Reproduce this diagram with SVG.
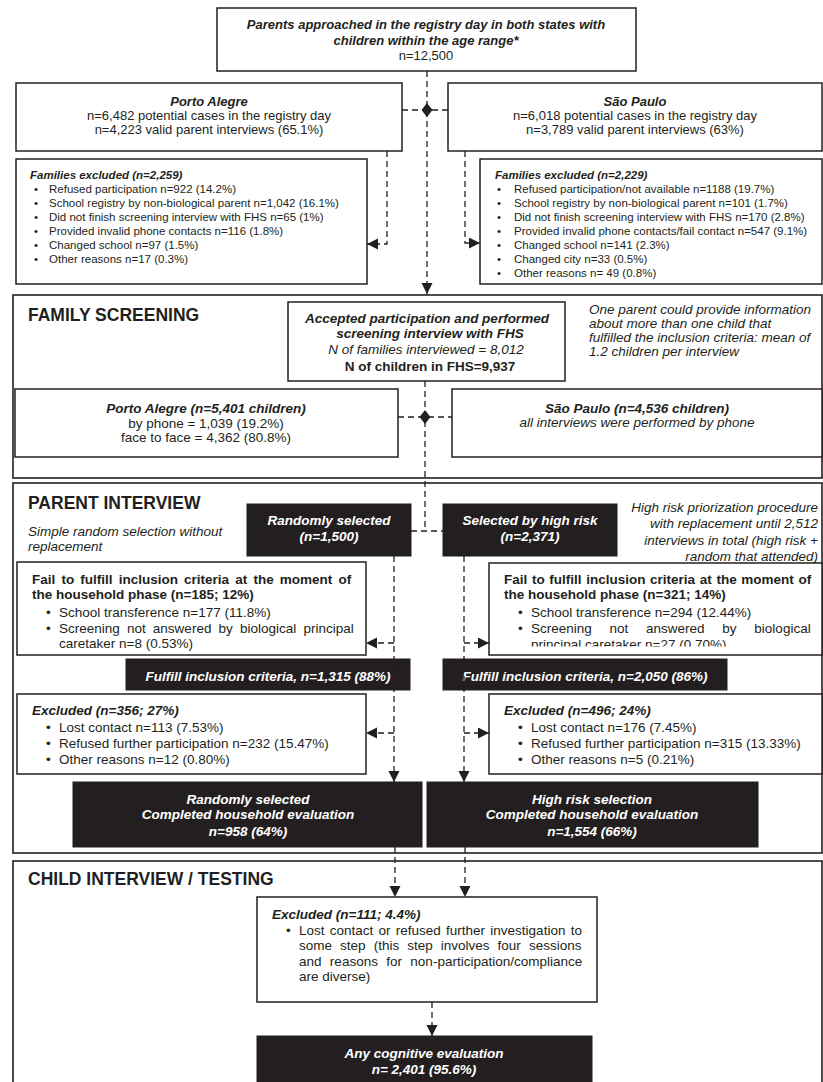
<svg xmlns="http://www.w3.org/2000/svg" width="823" height="1082" viewBox="0 0 823 1082">
<defs>
<style>
.box{fill:#fff;stroke:#231f20;stroke-width:1.5}
.sec{fill:none;stroke:#231f20;stroke-width:1.6}
.blk{fill:#231f20;stroke:#231f20;stroke-width:1}
.t{font-family:"Liberation Sans",Arial,Helvetica,sans-serif;fill:#231f20}
.s13{font-size:13px}
.s135{font-size:13.5px}
.s115{font-size:11.5px}
.s175{font-size:17.5px}
.b{font-weight:bold}
.i{font-style:italic}
.w{fill:#fff}
.c{text-anchor:middle}
.r{text-anchor:end}
.dash{fill:none;stroke:#231f20;stroke-width:1.3;stroke-dasharray:6 4}
.dia{fill:#231f20}
</style>
<marker id="arr" markerUnits="userSpaceOnUse" markerWidth="12" markerHeight="12" refX="11" refY="5.5" orient="auto">
<path d="M0,0 L11,5.5 L0,11 Z" fill="#231f20"/>
</marker>
<clipPath id="clipR"><rect x="489" y="563" width="333" height="83.5"/></clipPath>
</defs>
<rect width="823" height="1082" fill="#fff"/>

<g id="sections">
<rect class="sec" x="13" y="295" width="809" height="183"/>
<rect class="sec" x="13" y="483" width="809" height="370"/>
<rect class="sec" x="13" y="861" width="809" height="240"/>
<text class="t s175 b" x="28" y="321">FAMILY SCREENING</text>
<text class="t s175 b" x="28" y="509">PARENT INTERVIEW</text>
<text class="t s175 b" x="28" y="885">CHILD INTERVIEW / TESTING</text>
</g>

<g id="n-top">
<rect class="box" x="217" y="8" width="419" height="63"/>
<text class="t s13 b i c" x="426" y="28.5">Parents approached in the registry day in both states with</text>
<text class="t s13 b i c" x="426" y="44.5">children within the age range*</text>
<text class="t s13 c" x="426" y="59.5">n=12,500</text>
</g>

<g id="n-poa">
<rect class="box" x="16" y="83" width="386" height="68"/>
<text class="t s13 b i c" x="209" y="105.5">Porto Alegre</text>
<text class="t s13 c" x="209" y="119.5">n=6,482 potential cases in the registry day</text>
<text class="t s13 c" x="209" y="133.5">n=4,223 valid parent interviews (65.1%)</text>
</g>

<g id="n-sp">
<rect class="box" x="448" y="83" width="374" height="68"/>
<text class="t s13 b i c" x="635" y="105.5">São Paulo</text>
<text class="t s13 c" x="635" y="119.5">n=6,018 potential cases in the registry day</text>
<text class="t s13 c" x="635" y="133.5">n=3,789 valid parent interviews (63%)</text>
</g>

<g id="n-excl-poa">
<rect class="box" x="16" y="159" width="351" height="125"/>
<text class="t s115 b i" x="30" y="179">Families excluded (n=2,259)</text>
<g class="t s115">
<text x="34" y="192.5">•</text><text x="49" y="192.5">Refused participation n=922 (14.2%)</text>
<text x="34" y="206.5">•</text><text x="49" y="206.5">School registry by non-biological parent n=1,042 (16.1%)</text>
<text x="34" y="220.5">•</text><text x="49" y="220.5">Did not finish screening interview with FHS n=65 (1%)</text>
<text x="34" y="234.5">•</text><text x="49" y="234.5">Provided invalid phone contacts n=116 (1.8%)</text>
<text x="34" y="248.5">•</text><text x="49" y="248.5">Changed school n=97 (1.5%)</text>
<text x="34" y="262.5">•</text><text x="49" y="262.5">Other reasons n=17 (0.3%)</text>
</g>
</g>

<g id="n-excl-sp">
<rect class="box" x="480" y="159" width="342" height="125"/>
<text class="t s115 b i" x="495" y="179">Families excluded (n=2,229)</text>
<g class="t s115">
<text x="497" y="192.5">•</text><text x="514" y="192.5">Refused participation/not available n=1188 (19.7%)</text>
<text x="497" y="206.5">•</text><text x="514" y="206.5">School registry by non-biological parent n=101 (1.7%)</text>
<text x="497" y="220.5">•</text><text x="514" y="220.5">Did not finish screening interview with FHS n=170 (2.8%)</text>
<text x="497" y="234.5">•</text><text x="514" y="234.5">Provided invalid phone contacts/fail contact n=547 (9.1%)</text>
<text x="497" y="248.5">•</text><text x="514" y="248.5">Changed school n=141 (2.3%)</text>
<text x="497" y="262.5">•</text><text x="514" y="262.5">Changed city n=33 (0.5%)</text>
<text x="497" y="276.5">•</text><text x="514" y="276.5">Other reasons n= 49 (0.8%)</text>
</g>
</g>

<g id="n-accepted">
<rect class="box" x="288" y="302" width="277" height="79"/>
<text class="t s135 b i c" x="427" y="322.5">Accepted participation and performed</text>
<text class="t s135 b i c" x="430" y="337.5">screening interview with FHS</text>
<text class="t s135 i c" x="426" y="353.5">N of families interviewed = 8,012</text>
<text class="t s135 b c" x="430" y="370.5">N of children in FHS=9,937</text>
</g>

<g id="note-fhs" class="t s135 i">
<text x="589" y="314">One parent could provide information</text>
<text x="589" y="328">about more than one child that</text>
<text x="589" y="342">fulfilled the inclusion criteria: mean of</text>
<text x="589" y="356">1.2 children per interview</text>
</g>

<g id="n-poa-fhs">
<rect class="box" x="15" y="389" width="383" height="68"/>
<text class="t s135 b i c" x="206" y="412.5">Porto Alegre (n=5,401 children)</text>
<text class="t s135 c" x="206" y="427.5">by phone = 1,039 (19.2%)</text>
<text class="t s135 c" x="206" y="441.5">face to face = 4,362 (80.8%)</text>
</g>

<g id="n-sp-fhs">
<rect class="box" x="452" y="389" width="370" height="68"/>
<text class="t s135 b i c" x="637" y="412.5">São Paulo (n=4,536 children)</text>
<text class="t s135 i c" x="637" y="426.5">all interviews were performed by phone</text>
</g>

<g id="note-random" class="t s135 i">
<text x="28" y="535.5">Simple random selection without</text>
<text x="28" y="550.5">replacement</text>
</g>

<g id="note-highrisk" class="t s135 i r">
<text x="818" y="512">High risk priorization procedure</text>
<text x="818" y="528">with replacement until 2,512</text>
<text x="818" y="545">interviews in total (high risk +</text>
<text x="818" y="561">random that attended)</text>
</g>

<g id="n-random">
<rect class="blk" x="247" y="504" width="164" height="52"/>
<text class="t s135 b i c w" x="329" y="525">Randomly selected</text>
<text class="t s135 b i c w" x="329" y="541">(n=1,500)</text>
</g>

<g id="n-highrisk">
<rect class="blk" x="443" y="504" width="174" height="52"/>
<text class="t s135 b i c w" x="530" y="525">Selected by high risk</text>
<text class="t s135 b i c w" x="530" y="541">(n=2,371)</text>
</g>

<g id="n-fail-random">
<rect class="box" x="17" y="562" width="349" height="93"/>
<text class="t s135 b" x="32" y="584" style="word-spacing:2.4px">Fail to fulfill inclusion criteria at the moment of</text>
<text class="t s135 b" x="32" y="599">the household phase (n=185; 12%)</text>
<g class="t s135">
<text x="46" y="617">•</text><text x="59" y="617">School transference n=177 (11.8%)</text>
<text x="46" y="633">•</text><text x="59" y="633" style="word-spacing:3.4px">Screening not answered by biological principal</text>
<text x="59" y="648">caretaker n=8 (0.53%)</text>
</g>
</g>

<g id="n-fail-highrisk">
<rect class="box" x="489" y="563" width="333" height="92"/>
<g clip-path="url(#clipR)">
<text class="t s135 b" x="504" y="584" style="word-spacing:0.9px">Fail to fulfill inclusion criteria at the moment of</text>
<text class="t s135 b" x="504" y="599">the household phase (n=321; 14%)</text>
<g class="t s135">
<text x="518" y="617">•</text><text x="531" y="617">School transference n=294 (12.44%)</text>
<text x="518" y="633">•</text><text x="531" y="633" style="word-spacing:14px">Screening not answered by biological</text>
<text x="531" y="649">principal caretaker n=27 (0.70%)</text>
</g>
</g>
</g>

<g id="n-fulfill-random">
<rect class="blk" x="126" y="659" width="284" height="31"/>
<text class="t s135 b i c w" x="268" y="680.5">Fulfill inclusion criteria, n=1,315 (88%)</text>
</g>

<g id="n-fulfill-highrisk">
<rect class="blk" x="443" y="659" width="284" height="31"/>
<text class="t s135 b i c w" x="585" y="680.5">Fulfill inclusion criteria, n=2,050 (86%)</text>
</g>

<g id="n-excl-random">
<rect class="box" x="17" y="694" width="349" height="80"/>
<text class="t s135 b i" x="32" y="715">Excluded (n=356; 27%)</text>
<g class="t s135">
<text x="46" y="731.5">•</text><text x="59" y="731.5">Lost contact n=113 (7.53%)</text>
<text x="46" y="747.5">•</text><text x="59" y="747.5">Refused further participation n=232 (15.47%)</text>
<text x="46" y="763.5">•</text><text x="59" y="763.5">Other reasons n=12 (0.80%)</text>
</g>
</g>

<g id="n-excl-highrisk">
<rect class="box" x="489" y="694" width="333" height="80"/>
<text class="t s135 b i" x="504" y="715">Excluded (n=496; 24%)</text>
<g class="t s135">
<text x="518" y="731.5">•</text><text x="531" y="731.5">Lost contact n=176 (7.45%)</text>
<text x="518" y="747.5">•</text><text x="531" y="747.5">Refused further participation n=315 (13.33%)</text>
<text x="518" y="763.5">•</text><text x="531" y="763.5">Other reasons n=5 (0.21%)</text>
</g>
</g>

<g id="n-complete-random">
<rect class="blk" x="73" y="782" width="349" height="65"/>
<text class="t s135 b i c w" x="248" y="803.5">Randomly selected</text>
<text class="t s135 b i c w" x="248" y="818.5">Completed household evaluation</text>
<text class="t s135 b i c w" x="248" y="835.5">n=958 (64%)</text>
</g>

<g id="n-complete-highrisk">
<rect class="blk" x="427" y="782" width="331" height="65"/>
<text class="t s135 b i c w" x="592" y="803.5">High risk selection</text>
<text class="t s135 b i c w" x="592" y="818.5">Completed household evaluation</text>
<text class="t s135 b i c w" x="592" y="835.5">n=1,554 (66%)</text>
</g>

<g id="n-excl-child">
<rect class="box" x="257" y="897" width="340" height="105"/>
<text class="t s135 b i" x="272" y="918.5">Excluded (n=111; 4.4%)</text>
<g class="t s135">
<text x="286" y="934.5">•</text><text x="299" y="934.5" style="word-spacing:1.5px">Lost contact or refused further investigation to</text>
<text x="299" y="950" style="word-spacing:4.3px">some step (this step involves four sessions</text>
<text x="299" y="965.5" style="word-spacing:4.6px">and reasons for non-participation/compliance</text>
<text x="299" y="981">are diverse)</text>
</g>
</g>

<g id="n-cognitive">
<rect class="blk" x="257" y="1036" width="335" height="60"/>
<text class="t s135 b i c w" x="424" y="1057.5">Any cognitive evaluation</text>
<text class="t s135 b i c w" x="424" y="1073.5">n= 2,401 (95.6%)</text>
</g>

<g id="connectors">
<path class="dash" d="M427,71 V294" marker-end="url(#arr)"/>
<path class="dash" d="M402,110 H448"/>
<polygon class="dia" points="427,103 432.5,110 427,117 421.5,110"/>
<path class="dash" d="M387,151 V244 H367" marker-end="url(#arr)"/>
<path class="dash" d="M465,151 V243 H480" marker-end="url(#arr)"/>
<path class="dash" d="M425,381 V531"/>
<path class="dash" d="M398,417 H452"/>
<polygon class="dia" points="425,410 430.5,417 425,424 419.5,417"/>
<path class="dash" d="M411,531 H443"/>
<path class="dash" d="M394,556 V782" marker-end="url(#arr)"/>
<path class="dash" d="M394,643 H366" marker-end="url(#arr)"/>
<path class="dash" d="M394,733 H366" marker-end="url(#arr)"/>
<path class="dash" d="M464,556 V782" marker-end="url(#arr)"/>
<path class="dash" d="M464,643 H489" marker-end="url(#arr)"/>
<path class="dash" d="M464,733 H489" marker-end="url(#arr)"/>
<path class="dash" d="M395,847 V897" marker-end="url(#arr)"/>
<path class="dash" d="M465,847 V897" marker-end="url(#arr)"/>
<path class="dash" d="M432,1002 V1036" marker-end="url(#arr)"/>
</g>
</svg>
